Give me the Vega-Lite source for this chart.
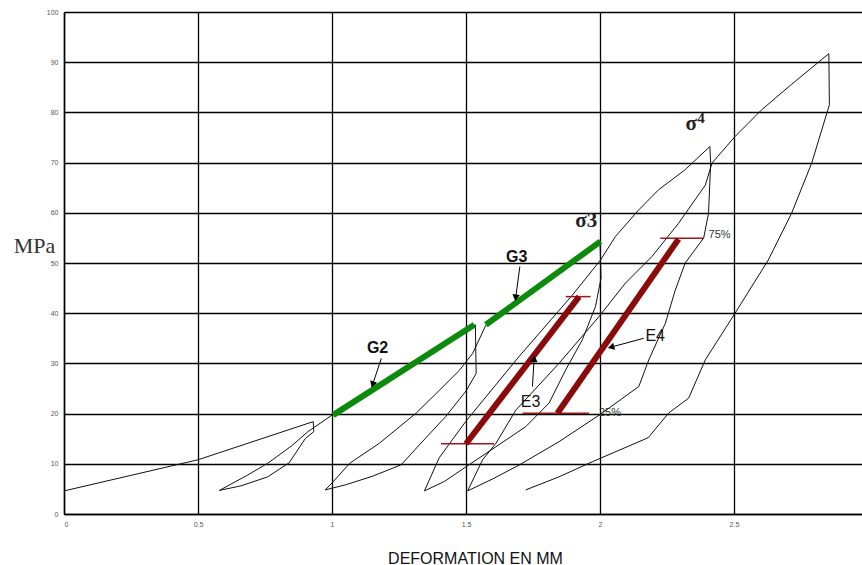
{
  "$schema": "https://vega.github.io/schema/vega-lite/v6.json",
  "width": 798,
  "height": 502,
  "autosize": {"type": "none"},
  "padding": {"left": 64, "top": 12, "right": 0, "bottom": 51},
  "background": "white",
  "config": {"view": {"stroke": null}, "font": "Liberation Sans"},
  "datasets": {
    "curve": [
      {"i":1,"x":0,"y":4.6},{"i":2,"x":0.25,"y":7.7},{"i":3,"x":0.5,"y":10.8},{"i":4,"x":0.93,"y":18.4},
      {"i":5,"x":0.932,"y":16.4},{"i":6,"x":0.9,"y":15.0},{"i":7,"x":0.84,"y":10.2},{"i":8,"x":0.76,"y":7.4},
      {"i":9,"x":0.66,"y":5.6},{"i":10,"x":0.58,"y":4.7},{"i":11,"x":0.68,"y":7.6},{"i":12,"x":0.76,"y":10.1},
      {"i":13,"x":0.85,"y":13.6},{"i":14,"x":0.91,"y":16.4},{"i":15,"x":1.0,"y":19.7},{"i":16,"x":1.25,"y":28.6},
      {"i":17,"x":1.535,"y":37.7},{"i":18,"x":1.538,"y":28.0},{"i":19,"x":1.5,"y":24.5},{"i":20,"x":1.424,"y":19.4},
      {"i":21,"x":1.33,"y":14.0},{"i":22,"x":1.258,"y":9.8},{"i":23,"x":1.15,"y":7.5},{"i":24,"x":1.05,"y":5.8},
      {"i":25,"x":0.975,"y":4.8},{"i":26,"x":1.004,"y":6.4},{"i":27,"x":1.066,"y":10.1},{"i":28,"x":1.177,"y":14.1},
      {"i":29,"x":1.314,"y":20.1},{"i":30,"x":1.40,"y":24.6},{"i":31,"x":1.475,"y":28.6},{"i":32,"x":1.525,"y":32.0},
      {"i":33,"x":1.574,"y":37.6},{"i":34,"x":1.8,"y":46.6},{"i":35,"x":2.0,"y":54.3},{"i":36,"x":2.004,"y":47.0},
      {"i":37,"x":1.983,"y":41.3},{"i":38,"x":1.934,"y":34.7},{"i":39,"x":1.872,"y":28.7},{"i":40,"x":1.81,"y":22.1},
      {"i":41,"x":1.723,"y":17.4},{"i":42,"x":1.612,"y":13.4},{"i":43,"x":1.5,"y":9.4},{"i":44,"x":1.42,"y":6.5},
      {"i":45,"x":1.345,"y":4.6},{"i":46,"x":1.40,"y":11.2},{"i":47,"x":1.5,"y":18.5},{"i":48,"x":1.7,"y":31.5},
      {"i":49,"x":1.897,"y":43.6},{"i":50,"x":2.002,"y":50.6},{"i":51,"x":2.058,"y":55.3},{"i":52,"x":2.145,"y":60.6},
      {"i":53,"x":2.219,"y":64.6},{"i":54,"x":2.318,"y":68.6},{"i":55,"x":2.41,"y":73.2},{"i":56,"x":2.413,"y":69.9},
      {"i":57,"x":2.405,"y":59.9},{"i":58,"x":2.387,"y":55.0},{"i":59,"x":2.318,"y":50.0},{"i":60,"x":2.281,"y":44.6},
      {"i":61,"x":2.244,"y":38.0},{"i":62,"x":2.182,"y":30.7},{"i":63,"x":2.145,"y":25.4},{"i":64,"x":2.0,"y":19.8},
      {"i":65,"x":1.847,"y":14.4},{"i":66,"x":1.7,"y":9.8},{"i":67,"x":1.6,"y":7.0},{"i":68,"x":1.506,"y":4.6},
      {"i":69,"x":1.562,"y":10.8},{"i":70,"x":1.612,"y":14.1},{"i":71,"x":1.686,"y":20.7},{"i":72,"x":1.847,"y":30.0},
      {"i":73,"x":1.996,"y":39.3},{"i":74,"x":2.095,"y":46.0},{"i":75,"x":2.194,"y":51.3},{"i":76,"x":2.293,"y":57.9},
      {"i":77,"x":2.393,"y":65.5},{"i":78,"x":2.418,"y":69.9},{"i":79,"x":2.504,"y":75.2},{"i":80,"x":2.603,"y":80.5},
      {"i":81,"x":2.715,"y":85.6},{"i":82,"x":2.854,"y":91.7},{"i":83,"x":2.856,"y":81.5},{"i":84,"x":2.79,"y":69.9},
      {"i":85,"x":2.715,"y":59.9},{"i":86,"x":2.628,"y":50.6},{"i":87,"x":2.504,"y":40.0},{"i":88,"x":2.393,"y":30.7},
      {"i":89,"x":2.331,"y":23.1},{"i":90,"x":2.256,"y":20.1},{"i":91,"x":2.18,"y":15.2},{"i":92,"x":1.971,"y":10.4},
      {"i":93,"x":1.847,"y":7.4},{"i":94,"x":1.723,"y":4.8}
    ],
    "bars": [
      {"kind":"G","x":1.004,"y":19.7,"x2":1.531,"y2":37.7},
      {"kind":"G","x":1.574,"y":37.7,"x2":2.002,"y2":54.3},
      {"kind":"E","x":1.5,"y":14.0,"x2":1.922,"y2":43.3},
      {"kind":"E","x":1.841,"y":20.07,"x2":2.293,"y2":54.75}
    ],
    "marks": [
      {"x":1.407,"x2":1.605,"y":14.0},
      {"x":1.872,"x2":1.965,"y":43.3},
      {"x":1.711,"x2":1.959,"y":20.07},
      {"x":2.225,"x2":2.387,"y":54.95}
    ],
    "arrows": [
      {"name":"G2","x":1.184,"y":31.0,"x2":1.153,"y2":26.0},
      {"name":"G3","x":1.701,"y":49.3,"x2":1.686,"y2":43.3},
      {"name":"E3","x":1.748,"y":25.4,"x2":1.754,"y2":30.7},
      {"name":"E4","x":2.163,"y":35.0,"x2":2.045,"y2":33.3}
    ],
    "heads": [
      {"name":"G2","x":1.153,"y":26.0},
      {"name":"G3","x":1.686,"y":43.3},
      {"name":"E3","x":1.754,"y":30.7},
      {"name":"E4","x":2.045,"y":33.3}
    ],
    "labels": [
      {"g":"bold","t":"G2","x":1.170,"y":33.1},
      {"g":"bold","t":"G3","x":1.689,"y":51.1},
      {"g":"e","t":"E3","x":1.741,"y":22.4},
      {"g":"e","t":"E4","x":2.206,"y":35.5},
      {"g":"sig","t":"σ3","x":1.949,"y":58.4},
      {"g":"sig","t":"σ","x":2.34,"y":77.6},
      {"g":"sup","t":"4","x":2.377,"y":78.8},
      {"g":"pct","t":"75%","x":2.405,"y":55.6},
      {"g":"pct","t":"25%","x":1.996,"y":20.1}
    ]
  },
  "encoding": {
    "x": {
      "field": "x", "type": "quantitative",
      "scale": {"domain": [0, 2.9777], "nice": false, "zero": false},
      "axis": {
        "values": [0, 0.5, 1, 1.5, 2, 2.5], "format": "~g",
        "title": "DEFORMATION EN MM",
        "grid": true, "gridColor": "#000", "gridWidth": 1.3, "gridOpacity": 1,
        "domainColor": "#000", "domainWidth": 1.5, "ticks": false,
        "labelFontSize": 7, "labelColor": "#555", "labelPadding": 6,
        "titleFontSize": 16, "titleFontWeight": "normal", "titleColor": "#111",
        "titleX": 411, "titleY": 44, "titleBaseline": "middle", "titleAlign": "center"
      }
    },
    "y": {
      "field": "y", "type": "quantitative",
      "scale": {"domain": [0, 100], "nice": false, "zero": false},
      "axis": {
        "values": [0, 10, 20, 30, 40, 50, 60, 70, 80, 90, 100],
        "title": "MPa",
        "grid": true, "gridColor": "#000", "gridWidth": 1.3, "gridOpacity": 1,
        "domainColor": "#000", "domainWidth": 1.5, "ticks": false,
        "labelFontSize": 7, "labelColor": "#555", "labelPadding": 6,
        "titleFont": "Liberation Serif", "titleFontSize": 22, "titleFontWeight": "normal",
        "titleColor": "#333", "titleAngle": 0, "titleX": -30, "titleY": 233,
        "titleAlign": "center", "titleBaseline": "middle"
      }
    }
  },
  "layer": [
    {
      "data": {"name": "curve"},
      "mark": {"type": "line", "color": "#111", "strokeWidth": 1},
      "encoding": {"order": {"field": "i", "type": "quantitative"}}
    },
    {
      "data": {"name": "marks"},
      "mark": {"type": "rule", "color": "#a01515", "strokeWidth": 1.5},
      "encoding": {"x2": {"field": "x2"}}
    },
    {
      "data": {"name": "bars"},
      "mark": {"type": "rule", "strokeWidth": 6, "strokeCap": "butt"},
      "encoding": {
        "x2": {"field": "x2"}, "y2": {"field": "y2"},
        "color": {"field": "kind", "type": "nominal", "scale": {"domain": ["G", "E"], "range": ["#0c8a0c", "#8b0a0a"]}, "legend": null}
      }
    },
    {
      "data": {"name": "arrows"},
      "mark": {"type": "rule", "color": "#000", "strokeWidth": 1},
      "encoding": {"x2": {"field": "x2"}, "y2": {"field": "y2"}}
    },
    {
      "data": {"name": "heads"},
      "transform": [{"filter": "datum.name == 'G2'"}],
      "mark": {"type": "point", "shape": "triangle", "filled": true, "color": "#000", "opacity": 1, "size": 55, "angle": 198.6},
      "encoding": {}
    },
    {
      "data": {"name": "heads"},
      "transform": [{"filter": "datum.name == 'G3'"}],
      "mark": {"type": "point", "shape": "triangle", "filled": true, "color": "#000", "opacity": 1, "size": 55, "angle": 187.6},
      "encoding": {}
    },
    {
      "data": {"name": "heads"},
      "transform": [{"filter": "datum.name == 'E3'"}],
      "mark": {"type": "point", "shape": "triangle", "filled": true, "color": "#000", "opacity": 1, "size": 55, "angle": 3.6},
      "encoding": {}
    },
    {
      "data": {"name": "heads"},
      "transform": [{"filter": "datum.name == 'E4'"}],
      "mark": {"type": "point", "shape": "triangle", "filled": true, "color": "#000", "opacity": 1, "size": 55, "angle": 255.2},
      "encoding": {}
    },
    {
      "data": {"name": "labels"},
      "transform": [{"filter": "datum.g == 'bold'"}],
      "mark": {"type": "text", "font": "Liberation Sans", "fontSize": 16, "fontWeight": "bold", "color": "#111", "align": "center", "baseline": "middle"},
      "encoding": {"text": {"field": "t"}}
    },
    {
      "data": {"name": "labels"},
      "transform": [{"filter": "datum.g == 'e'"}],
      "mark": {"type": "text", "font": "Liberation Sans", "fontSize": 16, "color": "#111", "align": "center", "baseline": "middle"},
      "encoding": {"text": {"field": "t"}}
    },
    {
      "data": {"name": "labels"},
      "transform": [{"filter": "datum.g == 'sig'"}],
      "mark": {"type": "text", "font": "Liberation Serif", "fontSize": 21, "fontWeight": "bold", "color": "#222", "align": "center", "baseline": "middle"},
      "encoding": {"text": {"field": "t"}}
    },
    {
      "data": {"name": "labels"},
      "transform": [{"filter": "datum.g == 'sup'"}],
      "mark": {"type": "text", "font": "Liberation Serif", "fontSize": 15, "fontWeight": "bold", "color": "#222", "align": "center", "baseline": "middle"},
      "encoding": {"text": {"field": "t"}}
    },
    {
      "data": {"name": "labels"},
      "transform": [{"filter": "datum.g == 'pct'"}],
      "mark": {"type": "text", "font": "Liberation Sans", "fontSize": 11, "color": "#333", "align": "left", "baseline": "middle"},
      "encoding": {"text": {"field": "t"}}
    }
  ]
}
